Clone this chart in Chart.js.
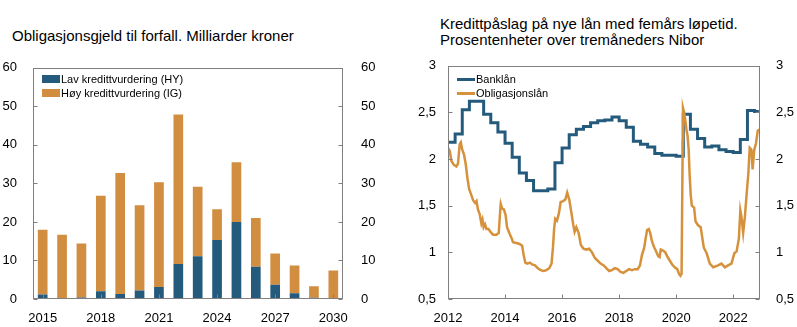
<!DOCTYPE html>
<html>
<head>
<meta charset="utf-8">
<script src="https://cdn.jsdelivr.net/npm/chart.js@4"></script>
<style>
  body { margin: 0; background: #fff; }
  #wrap { position: relative; width: 797px; height: 327px; font-family: "Liberation Sans", Arial, sans-serif; color: #000; }
  .title { position: absolute; font-size: 15px; line-height: 16px; white-space: nowrap; }
  .box { position: absolute; top: 50px; height: 277px; }
  .legend { position: absolute; font-size: 11px; line-height: 14px; white-space: nowrap; }
  .legend div { display: flex; align-items: center; height: 14px; }
  .legend span.sw { display: inline-block; width: 18px; margin-right: 1px; }
</style>
</head>
<body>
<div id="wrap">
  <div class="title" style="left:12px; top:28px;">Obligasjonsgjeld til forfall. Milliarder kroner</div>
  <div class="title" style="left:440px; top:16px;">Kredittpåslag på nye lån med femårs løpetid.<br>Prosentenheter over tremåneders Nibor</div>
  <div class="box" style="left:0; width:398px;"><canvas id="gjeldChart"></canvas></div>
  <div class="box" style="left:398px; width:399px;"><canvas id="paslagChart"></canvas></div>
  <div class="legend" id="legendLeft" style="left:42px; top:72px;"></div>
  <div class="legend" id="legendRight" style="left:457px; top:72px;"></div>
</div>
<script>
// venstre figur: forfall per år
const aar = ["2015", "2016", "2017", "2018", "2019", "2020", "2021", "2022",
  "2023", "2024", "2025", "2026", "2027", "2028", "2029", "2030"];
const lavHY = [1.2, 0.2, 0.4, 2.0, 1.3, 2.2, 3.1, 9.1, 11.1, 15.3, 20.0, 8.4, 3.7, 1.5, 0.3, 0];
const hoyIG = [16.8, 16.5, 14.0, 24.8, 31.4, 22.1, 27.2, 38.8, 18.0, 8.0, 15.5, 12.6, 8.1, 7.2, 3.0, 7.4];
const gjeldTicks = [0, 10, 20, 30, 40, 50, 60];

// høyre figur: kredittpåslag
const bankValues = [2.18, 2.27, 2.53, 2.62, 2.62, 2.48, 2.39, 2.29, 2.17, 2.02, 1.85, 1.77,
  1.66, 1.66, 1.68, 1.96, 2.12, 2.26, 2.32, 2.35, 2.39, 2.41, 2.42, 2.45,
  2.41, 2.34, 2.19, 2.16, 2.13, 2.06, 2.04, 2.04, 2.03, 2.48, 2.32, 2.22,
  2.13, 2.14, 2.10, 2.08, 2.07, 2.21, 2.52, 2.51];
const bankEnd = 2022.9;

const obligDates = [2012.00, 2012.06, 2012.12, 2012.20, 2012.29, 2012.35, 2012.41, 2012.45, 2012.50, 2012.56,
  2012.62, 2012.68, 2012.74, 2012.80, 2012.88, 2012.95, 2013.00, 2013.05, 2013.11, 2013.17,
  2013.21, 2013.25, 2013.30, 2013.35, 2013.42, 2013.49, 2013.58, 2013.70, 2013.78, 2013.82,
  2013.85, 2013.90, 2013.96, 2014.02, 2014.07, 2014.16, 2014.22, 2014.28, 2014.40, 2014.51,
  2014.60, 2014.66, 2014.71, 2014.78, 2014.87, 2014.95, 2015.05, 2015.15, 2015.25, 2015.35,
  2015.45, 2015.55, 2015.63, 2015.68, 2015.72, 2015.76, 2015.82, 2015.89, 2015.95, 2016.04,
  2016.12, 2016.18, 2016.25, 2016.33, 2016.39, 2016.44, 2016.50, 2016.58, 2016.66, 2016.75,
  2016.85, 2016.95, 2017.05, 2017.15, 2017.25, 2017.35, 2017.46, 2017.55, 2017.65, 2017.75,
  2017.85, 2017.95, 2018.05, 2018.15, 2018.25, 2018.35, 2018.45, 2018.55, 2018.65, 2018.73,
  2018.80, 2018.88, 2018.93, 2018.98, 2019.04, 2019.09, 2019.15, 2019.22, 2019.30, 2019.37,
  2019.42, 2019.46, 2019.54, 2019.62, 2019.70, 2019.78, 2019.86, 2019.95, 2020.04, 2020.10,
  2020.15, 2020.19, 2020.23, 2020.24, 2020.28, 2020.32, 2020.36, 2020.40, 2020.44, 2020.47,
  2020.51, 2020.55, 2020.63, 2020.68, 2020.77, 2020.86, 2020.92, 2020.97, 2021.07, 2021.18,
  2021.30, 2021.47, 2021.59, 2021.71, 2021.82, 2021.94, 2022.04, 2022.12, 2022.20, 2022.25,
  2022.29, 2022.35, 2022.41, 2022.47, 2022.53, 2022.58, 2022.64, 2022.68, 2022.74, 2022.80,
  2022.86, 2022.91];
const obligValues = [2.12, 2.09, 1.98, 1.94, 1.92, 1.95, 2.16, 2.18, 2.10, 2.05,
  1.95, 1.80, 1.68, 1.63, 1.56, 1.53, 1.55, 1.46, 1.41, 1.31,
  1.35, 1.27, 1.30, 1.25, 1.25, 1.22, 1.19, 1.19, 1.21, 1.40,
  1.52, 1.47, 1.46, 1.40, 1.27, 1.20, 1.16, 1.11, 1.10, 1.09,
  1.07, 0.96, 0.89, 0.88, 0.89, 0.87, 0.86, 0.83, 0.81, 0.80,
  0.81, 0.83, 0.88, 1.05, 1.25, 1.36, 1.34, 1.42, 1.54, 1.55,
  1.57, 1.64, 1.57, 1.42, 1.30, 1.22, 1.27, 1.21, 1.08, 1.04,
  1.03, 1.04, 1.00, 0.94, 0.91, 0.88, 0.86, 0.83, 0.80, 0.81,
  0.83, 0.82, 0.79, 0.78, 0.80, 0.82, 0.81, 0.82, 0.82, 0.86,
  0.97, 1.05, 1.15, 1.24, 1.25, 1.21, 1.12, 1.06, 1.01, 0.96,
  0.95, 1.03, 1.02, 1.00, 0.95, 0.91, 0.87, 0.84, 0.82, 0.77,
  0.75, 0.77, 2.20, 2.55, 2.50, 2.42, 2.32, 2.25, 2.10, 1.85,
  1.62, 1.50, 1.48, 1.33, 1.29, 1.27, 1.15, 1.05, 0.99, 0.88,
  0.84, 0.86, 0.88, 0.84, 0.86, 0.88, 0.99, 1.01, 1.15, 1.45,
  1.38, 1.21, 1.38, 1.62, 1.84, 2.12, 2.10, 1.89, 2.10, 2.17,
  2.30, 2.32];
const paslagTicks = [0.5, 1, 1.5, 2, 2.5, 3];
const aarTicks = [2012, 2014, 2016, 2018, 2020, 2022];

const blaa = "#245b7c";
const oransje = "#d18d40";
const oransjeLinje = "#d6913d";
const aksefarge = "#808080";

Chart.defaults.font.family = '"Liberation Sans", Arial, sans-serif';
Chart.defaults.font.size = 13;
Chart.defaults.color = "#000";

// ramme rundt plottet + korte tikkmerker innover
const rammePlugin = {
  id: "ramme",
  afterDatasetsDraw(chart) {
    const ctx = chart.ctx;
    const a = chart.chartArea;
    const l = Math.round(a.left) + 0.5, r = Math.round(a.right) - 0.5;
    const t = Math.round(a.top) + 0.5, b = Math.round(a.bottom) - 0.5;
    ctx.save();
    ctx.strokeStyle = aksefarge;
    ctx.lineWidth = 1;
    ctx.strokeRect(l, t, r - l, b - t);
    ctx.beginPath();
    Object.values(chart.scales).forEach((s) => {
      s.ticks.forEach((tk, i) => {
        if (tk.label === "" || tk.label == null) return;
        const p = Math.round(s.getPixelForTick(i)) + 0.5;
        if (s.axis === "x") {
          ctx.moveTo(p, b); ctx.lineTo(p, b - 4);
        } else if (s.position === "left") {
          ctx.moveTo(l, p); ctx.lineTo(l + 4, p);
        } else {
          ctx.moveTo(r, p); ctx.lineTo(r - 4, p);
        }
      });
    });
    ctx.stroke();
    ctx.restore();
  },
};

const komma = (v) => String(v).replace(".", ",");

function yAkse(pos, ticks, width, pad, fmt) {
  return {
    position: pos,
    display: true,
    min: ticks[0],
    max: ticks[ticks.length - 1],
    grid: { display: false },
    border: { display: false },
    afterBuildTicks: (s) => { s.ticks = ticks.map((v) => ({ value: v })); },
    afterFit: (s) => { s.width = width; },
    ticks: { padding: pad, callback: fmt },
  };
}

new Chart(document.getElementById("gjeldChart"), {
  type: "bar",
  data: {
    labels: aar,
    datasets: [
      { label: "Lav kredittvurdering (HY)", data: lavHY, backgroundColor: blaa },
      { label: "Høy kredittvurdering (IG)", data: hoyIG, backgroundColor: oransje },
    ],
  },
  options: {
    responsive: true,
    maintainAspectRatio: false,
    animation: false,
    layout: { padding: { top: 14 } },
    plugins: { legend: { display: false }, tooltip: { enabled: false } },
    datasets: { bar: { categoryPercentage: 1, barPercentage: 0.5 } },
    scales: {
      x: {
        stacked: true,
        grid: { display: false },
        border: { display: false },
        afterFit: (s) => { s.height = 28; },
        ticks: {
          autoSkip: false,
          maxRotation: 0,
          padding: 4,
          callback: (v, i) => (i % 3 === 0 ? aar[i] : ""),
        },
      },
      y: Object.assign(yAkse("left", gjeldTicks, 33, 8, (v) => v), { stacked: true }),
      y2: yAkse("right", gjeldTicks, 55, 10, (v) => v),
    },
  },
  plugins: [rammePlugin],
});

const bankData = bankValues.map((v, i) => ({ x: 2012 + i * 0.25, y: v }));
bankData.push({ x: bankEnd, y: bankValues[bankValues.length - 1] });
const obligData = obligDates.map((d, i) => ({ x: d, y: obligValues[i] }));

new Chart(document.getElementById("paslagChart"), {
  type: "line",
  data: {
    datasets: [
      { label: "Banklån", data: bankData, borderColor: blaa, borderWidth: 3, stepped: true, pointRadius: 0, order: 1 },
      { label: "Obligasjonslån", data: obligData, borderColor: oransjeLinje, borderWidth: 2.5, pointRadius: 0, tension: 0, order: 0 },
    ],
  },
  options: {
    responsive: true,
    maintainAspectRatio: false,
    animation: false,
    layout: { padding: { top: 14 } },
    plugins: { legend: { display: false }, tooltip: { enabled: false } },
    scales: {
      x: {
        type: "linear",
        min: 2012,
        max: 2022.94,
        grid: { display: false },
        border: { display: false },
        afterBuildTicks: (s) => { s.ticks = aarTicks.map((v) => ({ value: v })); },
        afterFit: (s) => { s.height = 28; },
        ticks: { maxRotation: 0, padding: 4, callback: (v) => String(v) },
      },
      y: yAkse("left", paslagTicks, 50, 4, komma),
      y2: yAkse("right", paslagTicks, 37, 8, komma),
    },
  },
  plugins: [rammePlugin],
});

// forklaringer
function lagForklaring(id, items, linje) {
  const el = document.getElementById(id);
  items.forEach((it) => {
    const row = document.createElement("div");
    const sw = document.createElement("span");
    sw.className = "sw";
    sw.style.height = linje ? "3px" : "8px";
    sw.style.background = it.color;
    row.appendChild(sw);
    row.appendChild(document.createTextNode(it.text));
    el.appendChild(row);
  });
}
lagForklaring("legendLeft", [
  { text: "Lav kredittvurdering (HY)", color: blaa },
  { text: "Høy kredittvurdering (IG)", color: oransje },
], false);
lagForklaring("legendRight", [
  { text: "Banklån", color: blaa },
  { text: "Obligasjonslån", color: oransjeLinje },
], true);
</script>
</body>
</html>
